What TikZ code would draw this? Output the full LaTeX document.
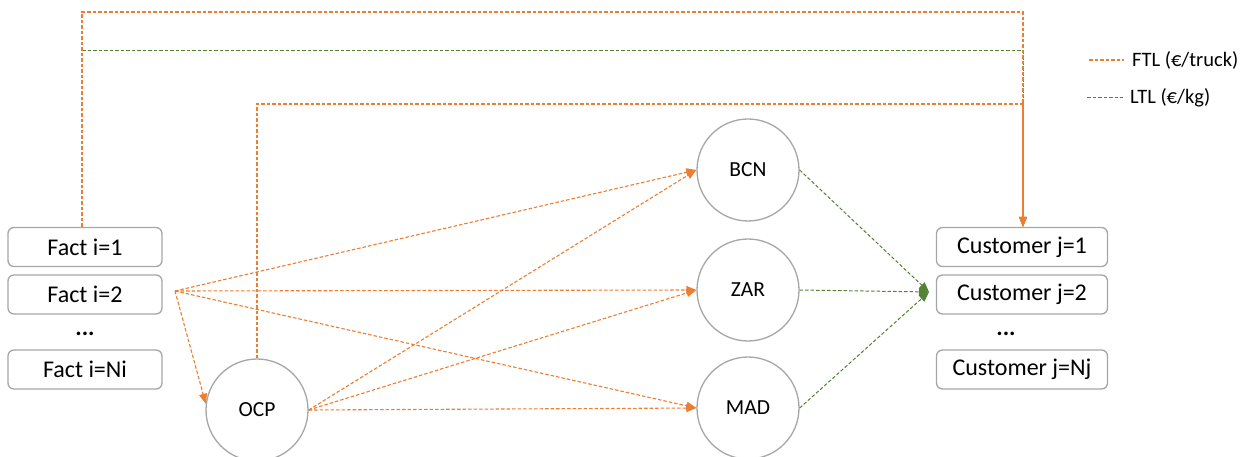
\documentclass[tikz,border=0pt]{standalone}
\usepackage{fontspec}
\setmainfont{Carlito}
\usetikzlibrary{arrows.meta}
\definecolor{ftlc}{HTML}{ED7D31}
\definecolor{ltlc}{HTML}{548235}
\definecolor{boxc}{HTML}{A6A6A6}
\begin{document}
\begin{tikzpicture}[x=1pt,y=-1pt,
  fbox/.style={draw=boxc,line width=1.3pt,rounded corners=6pt,minimum width=154pt,minimum height=39pt,inner sep=0pt,font=\fontsize{24}{28}\selectfont},
  cbox/.style={fbox,minimum width=171pt},
  dotsn/.style={font=\fontsize{24}{28}\selectfont\bfseries,inner sep=0pt,anchor=base},
  hub/.style={circle,draw=boxc,line width=1.3pt,minimum size=102pt,inner sep=0pt,font=\fontsize{21.5}{25}\selectfont},
  ftl/.style={color=ftlc,line width=1.1pt,dash pattern=on 3.5pt off 2pt},
  ltl/.style={color=ltlc,line width=1pt,dash pattern=on 3.5pt off 2pt},
  ftla/.style={ftl,-{Triangle[length=10pt,width=8pt]}},
  ltla/.style={ltl,-{Triangle[length=10pt,width=8pt]}},
  legt/.style={anchor=west,inner sep=0pt,font=\fontsize{20.5}{24}\selectfont}]
\useasboundingbox (0,0) rectangle (1247,457);
% left boxes
\node[fbox] (f1) at (85,247) {Fact i=1};
\node[fbox] (f2) at (85,294.5) {Fact i=2};
\node[dotsn] (fd) at (85,335) {...};
\node[fbox] (fN) at (85,369.5) {Fact i=Ni};
% customers
\node[cbox] (c1) at (1022,247) {Customer j=1};
\node[cbox] (c2) at (1022,294.5) {Customer j=2};
\node[dotsn] (cd) at (1006,335) {...};
\node[cbox] (cN) at (1022,369.5) {Customer j=Nj};
% hubs
\node[hub] (ocp) at (257,410) {OCP};
\node[hub] (bcn) at (748,170) {BCN};
\node[hub] (zar) at (748,290) {ZAR};
\node[hub] (mad) at (748,408) {MAD};
% helper coordinates
\coordinate (s2) at (175,291);
\coordinate (g) at (929,292);
\coordinate (ytop) at (0,12);
\coordinate (ymid) at (0,51);
\coordinate (ylow) at (0,104);
\coordinate (lx) at (82,0);
\coordinate (rx) at (1023,0);
% top routes
\draw[ltla] (lx |- f1.north) |- (rx |- ymid) -- (rx |- c1.north);
\draw[ftla] (lx |- f1.north) |- (rx |- ytop) -- (rx |- c1.north);
\draw[ftla] (ocp.north) |- (rx |- ylow) -- (rx |- c1.north);
% from factory 2
\draw[ftla] (s2) -- (bcn.west);
\draw[ftla] (s2) -- (zar.west);
\draw[ftla] (s2) -- (mad.west);
\draw[ftla] (s2) -- (ocp.173);
% from OCP
\draw[ftla] (ocp.east) -- (bcn.west);
\draw[ftla] (ocp.east) -- (zar.west);
\draw[ftla] (ocp.east) -- (mad.west);
% LTL to customers
\draw[ltla] (bcn.east) -- (g);
\draw[ltla] (zar.east) -- (g);
\draw[ltla] (mad.east) -- (g);
% legend
\coordinate (l1a) at (1089,60);
\coordinate (l1b) at (1124,60);
\coordinate (l2a) at (1087,98);
\coordinate (l2b) at (1123,98);
\draw[ftl] (l1a) -- (l1b);
\node[legt] (lf) at (1132,60) {FTL (€/truck)};
\draw[ltl] (l2a) -- (l2b);
\node[legt] (ll) at (1130,98) {LTL (€/kg)};
\end{tikzpicture}
\end{document}
